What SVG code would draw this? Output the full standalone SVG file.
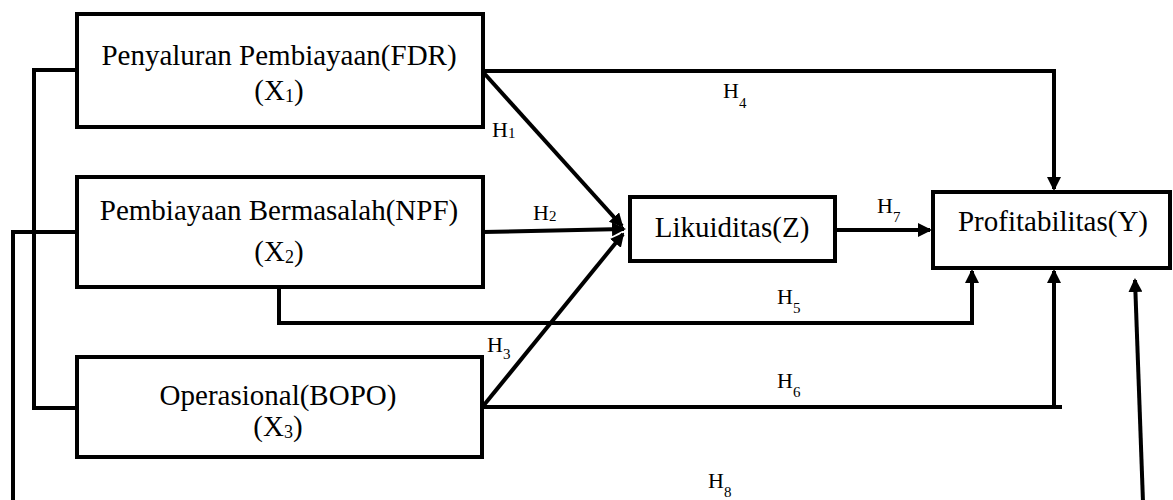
<svg xmlns="http://www.w3.org/2000/svg" width="1173" height="500" viewBox="0 0 1173 500">
<style>
  .box{fill:#fff;stroke:#000;stroke-width:4}
  .ln{fill:none;stroke:#000;stroke-width:4;stroke-linejoin:miter}
  .t{font-family:"Liberation Serif","Times New Roman",serif;font-size:29px;fill:#000;text-anchor:middle}
  .h{font-family:"Liberation Serif","Times New Roman",serif;font-size:22px;fill:#000}
  .s{font-size:15px}
</style>
<defs>
  <marker id="ah" viewBox="0 0 14 14" refX="12" refY="7" markerWidth="14" markerHeight="14" orient="auto" markerUnits="userSpaceOnUse">
    <path d="M0,0 L14,7 L0,14 z" fill="#000"/>
  </marker>
</defs>
<rect width="1173" height="500" fill="#fff"/>
<g id="connectors">
  <path class="ln" d="M77,70 H34 V408 H77"/>
  <path class="ln" d="M77,232 H13 V502"/>
  <path class="ln" d="M1143,502 L1135,280" marker-end="url(#ah)"/>
  <path class="ln" d="M483,72 L622,226" marker-end="url(#ah)"/>
  <path class="ln" d="M483,232 L624,229" marker-end="url(#ah)"/>
  <path class="ln" d="M484,405 L623,234" marker-end="url(#ah)"/>
  <path class="ln" d="M483,71 H1054 V189" marker-end="url(#ah)"/>
  <path class="ln" d="M279,287 V323 H972 V271" marker-end="url(#ah)"/>
  <path class="ln" d="M483,407 H1062"/>
  <path class="ln" d="M1054,409 V271" marker-end="url(#ah)"/>
  <path class="ln" d="M835,230 H930" marker-end="url(#ah)"/>
  <text class="h" x="492" y="137">H<tspan class="s" dy="1">1</tspan></text>
  <text class="h" x="533" y="220">H<tspan class="s" dy="1">2</tspan></text>
  <text class="h" x="487" y="352">H<tspan class="s" dy="7">3</tspan></text>
  <text class="h" x="723" y="98">H<tspan class="s" dy="10">4</tspan></text>
  <text class="h" x="777" y="304">H<tspan class="s" dy="9">5</tspan></text>
  <text class="h" x="777" y="388">H<tspan class="s" dy="9">6</tspan></text>
  <text class="h" x="877" y="213">H<tspan class="s" dy="9">7</tspan></text>
  <text class="h" x="708" y="488">H<tspan class="s" dy="9">8</tspan></text>
</g>
<g id="node-x1">
  <rect class="box" x="77" y="14" width="406" height="113"/>
  <text class="t" x="279" y="65">Penyaluran Pembiayaan(FDR)</text>
  <text class="t" x="279" y="100">(X<tspan font-size="18" dy="2">1</tspan><tspan dy="-2">)</tspan></text>
</g>
<g id="node-x2">
  <rect class="box" x="77" y="177" width="406" height="110"/>
  <text class="t" x="279" y="220">Pembiayaan Bermasalah(NPF)</text>
  <text class="t" x="279" y="261">(X<tspan font-size="18" dy="2">2</tspan><tspan dy="-2">)</tspan></text>
</g>
<g id="node-x3">
  <rect class="box" x="77" y="357" width="405" height="100"/>
  <text class="t" x="278" y="405">Operasional(BOPO)</text>
  <text class="t" x="278" y="436">(X<tspan font-size="18" dy="2">3</tspan><tspan dy="-2">)</tspan></text>
</g>
<g id="node-z">
  <rect class="box" x="630" y="197" width="205" height="64"/>
  <text class="t" x="732" y="237">Likuiditas(Z)</text>
</g>
<g id="node-y">
  <rect class="box" x="933" y="192" width="237" height="76"/>
  <text class="t" x="1053" y="231">Profitabilitas(Y)</text>
</g>
</svg>
